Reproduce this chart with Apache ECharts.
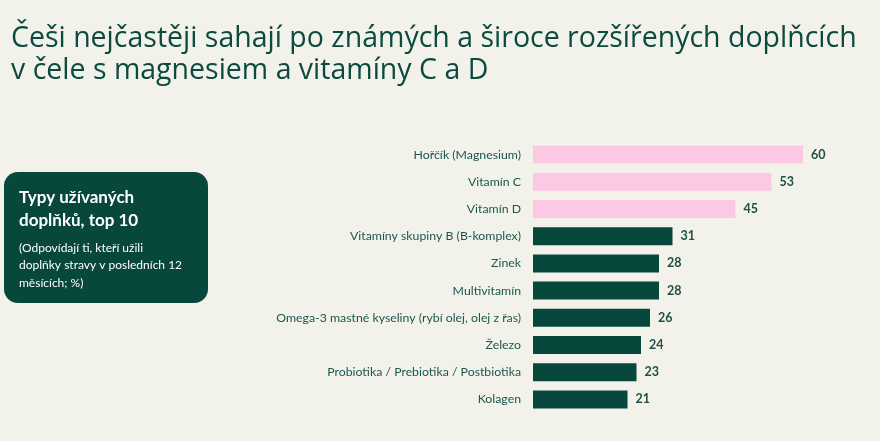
<!DOCTYPE html>
<html>
<head>
<meta charset="utf-8">
<script src="https://cdn.jsdelivr.net/npm/echarts@6/dist/echarts.min.js"></script>
<style>
  html, body { margin: 0; padding: 0; background: #f3f2ea; }
  #chart { width: 880px; height: 441px; }
</style>
</head>
<body>
<div id="chart"></div>
<script>
// data
var categories = [
    'Hořčík (Magnesium)',
    'Vitamín C',
    'Vitamín D',
    'Vitamíny skupiny B (B-komplex)',
    'Zinek',
    'Multivitamín',
    'Omega-3 mastné kyseliny (rybí olej, olej z řas)',
    'Železo',
    'Probiotika / Prebiotika / Postbiotika',
    'Kolagen'
];
var values = [60, 53, 45, 31, 28, 28, 26, 24, 23, 21];
var highlighted = ['Hořčík (Magnesium)', 'Vitamín C', 'Vitamín D'];

var darkGreen = '#07473c';
var pink = '#fbc9e3';
var fontName = 'Lato';

var chart = echarts.init(document.getElementById('chart'));

var option = {
    backgroundColor: '#f3f2ea',
    animation: false,
    grid: {
        left: 533,
        right: 77,
        top: 141,
        bottom: 28
    },
    xAxis: {
        type: 'value',
        min: 0,
        max: 60,
        show: false
    },
    yAxis: {
        type: 'category',
        data: categories,
        inverse: true,
        axisLine: { show: false },
        axisTick: { show: false },
        axisLabel: {
            margin: 12,
            color: '#1b574c',
            fontFamily: fontName,
            fontSize: 12.3
        }
    },
    series: [
        {
            type: 'bar',
            barWidth: 18,
            data: values.map(function (v, i) {
                return {
                    value: v,
                    itemStyle: {
                        color: highlighted.indexOf(categories[i]) >= 0 ? pink : darkGreen
                    }
                };
            }),
            label: {
                show: true,
                position: 'right',
                distance: 8,
                color: '#1f4f45',
                fontFamily: fontName,
                fontWeight: 'bold',
                fontSize: 12.5
            }
        }
    ],
    graphic: [
        {
            type: 'text',
            left: 11,
            top: 23,
            style: {
                text: 'Češi nejčastěji sahají po známých a široce rozšířených doplňcích\nv čele s magnesiem a vitamíny C a D',
                fill: '#0b4a3f',
                font: '28.5px "Open Sans"',
                lineHeight: 32
            }
        },
        {
            type: 'rect',
            shape: { x: 4, y: 172, width: 204, height: 131, r: 14 },
            style: { fill: darkGreen }
        },
        {
            type: 'text',
            left: 19,
            top: 186,
            style: {
                text: 'Typy užívaných\ndoplňků, top 10',
                fill: '#ffffff',
                font: 'bold 17px ' + fontName,
                lineHeight: 23
            }
        },
        {
            type: 'text',
            left: 19,
            top: 239,
            style: {
                text: '(Odpovídají ti, kteří užili\ndoplňky stravy v posledních 12\nměsících; %)',
                fill: '#ffffff',
                font: '12px ' + fontName,
                lineHeight: 17.5
            }
        }
    ]
};

chart.setOption(option);
</script>
</body>
</html>
